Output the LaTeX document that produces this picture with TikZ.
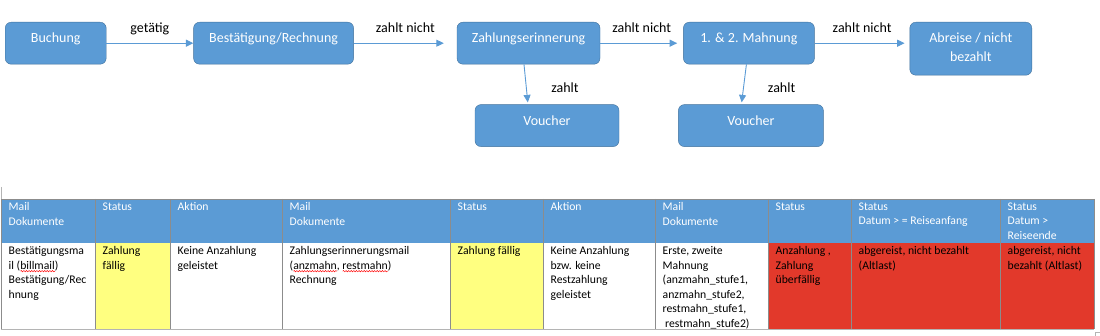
\documentclass[tikz,border=0pt]{standalone}
\usepackage{fontspec}
\setmainfont{Carlito}
\usetikzlibrary{arrows.meta,positioning,decorations.pathmorphing}
\definecolor{boxblue}{HTML}{5B9BD5}
\definecolor{boxedge}{HTML}{41719C}
\definecolor{cellyellow}{HTML}{FFFF80}
\definecolor{cellred}{HTML}{E2392B}
\definecolor{gridgray}{HTML}{8C8C8C}
\definecolor{rulegray}{HTML}{B4B4B4}
\newsavebox\squigbox
\newcommand\squig[1]{\sbox\squigbox{#1}\rlap{\raisebox{-2.8pt}{\tikz[x=1pt,y=1pt]\draw[red, line width=0.45pt, decorate, decoration={snake, amplitude=0.7pt, segment length=2.6pt}] (0,0) -- (\wd\squigbox,0);}}\usebox\squigbox}

\begin{document}
\begin{tikzpicture}[x=1pt, y=-1pt, node distance=40pt,
  stage/.style={draw=boxedge, fill=boxblue, text=white, rounded corners=6pt, align=center, inner sep=0pt, font=\fontsize{14}{19}\selectfont, minimum height=42pt, text height=20.7pt, text depth=21.3pt},
  lbl/.style={font=\fontsize{14}{17}\selectfont, inner sep=1pt, text depth=0pt},
  arr/.style={draw=boxblue, line width=0.9pt, -{Triangle[length=7.5pt,width=7pt]}},
  cell/.style={anchor=north west, inner sep=0pt, align=left, font=\fontsize{11.7}{14.5}\selectfont}]
\useasboundingbox (0,0) rectangle (1100,336);

% process boxes
\node[stage, minimum width=101pt, anchor=north west] (buchung) at (5,22) {Buchung};
\node[stage, minimum width=160pt, right=87pt of buchung] (best) {Bestätigung/Rechnung};
\node[stage, minimum width=143pt, right=103pt of best] (ze) {Zahlungserinnerung};
\node[stage, minimum width=131pt, right=83pt of ze] (mahn) {1. \& 2. Mahnung};
\node[stage, minimum width=122pt, text height=39.7pt, text depth=13.3pt, right=95pt of mahn.north east, anchor=north west] (abreise) {Abreise / nicht\\bezahlt};
\node[stage, minimum width=144pt, below=40pt of ze, xshift=18.5pt] (v1) {Voucher};
\node[stage, minimum width=145pt, below=40pt of mahn, xshift=2pt] (v2) {Voucher};

\draw[arr] (buchung) -- node[lbl, above=9pt] {getätig} (best);
\draw[arr, shorten >=13pt] (best) -- node[lbl, above=9pt] {zahlt nicht} (ze);
\draw[arr, shorten >=6pt] (ze) -- node[lbl, above=9pt] {zahlt nicht} (mahn);
\draw[arr, shorten >=5pt] (mahn.east) -- node[lbl, above=9pt] {zahlt nicht} (mahn.east -| abreise.west);
\draw[arr, shorten >=2pt] ([xshift=-4.5pt]ze.south) -- node[lbl, pos=0.575, right=23.5pt] {zahlt} ([xshift=-19pt]v1.north);
\draw[arr, shorten >=2pt] ([xshift=-2.5pt]mahn.south) -- node[lbl, pos=0.575, right=23pt] {zahlt} ([xshift=-9.5pt]v2.north);

% status table
\foreach \xa/\xb/\fillc/\head/\body [count=\i] in {
  1/95/white/{Mail\\Dokumente}/{Bestätigungsma\\il (\squig{billmail})\\Bestätigung/Rec\\hnung},
  95/170/cellyellow/{Status}/{Zahlung\\fällig},
  170/282/white/{Aktion}/{Keine Anzahlung\\geleistet},
  282/450/white/{Mail\\Dokumente}/{Zahlungserinnerungsmail\\(\squig{anzmahn}, \squig{restmahn})\\Rechnung},
  450/543/cellyellow/{Status}/{Zahlung fällig},
  543/655/white/{Aktion}/{Keine Anzahlung\\bzw. keine\\Restzahlung\\geleistet},
  655/768/white/{Mail\\Dokumente}/{Erste, zweite\\Mahnung\\(anzmahn\_stufe1,\\anzmahn\_stufe2,\\restmahn\_stufe1,\\\hspace{2.5pt}restmahn\_stufe2)},
  768/851/cellred/{Status}/{Anzahlung ,\\Zahlung\\überfällig},
  851/1000/cellred/{Status\\Datum > = Reiseanfang}/{abgereist, nicht bezahlt\\(Altlast)},
  1000/1094/cellred/{Status\\Datum >\\Reiseende}/{abgereist, nicht\\bezahlt (Altlast)}} {
  \fill[boxblue] (\xa,199) rectangle (\xb,243);
  \fill[\fillc] (\xa,243) rectangle (\xb,329);
  \node[cell, text=white] (h\i) at (\xa+7.5,202.5) {\head};
  \node[cell] (b\i) at (\xa+7.5,246.5) {\body};
}
\foreach \xa in {1,95,170,282,450,543,655,768,851,1000,1094}
  \draw[gridgray, line width=0.8pt] (\xa,199) -- (\xa,329);
\draw[gridgray, line width=0.8pt] (1,199) -- (1094,199);
\draw[rulegray, line width=1.4pt] (1,329.5) -- (1094,329.5);
\draw[rulegray, line width=0.8pt] (1,187) -- (1,199);
\draw[rulegray, line width=0.8pt] (1095.5,336) -- (1095.5,332.5) -- (1100,332.5);
\end{tikzpicture}
\end{document}
